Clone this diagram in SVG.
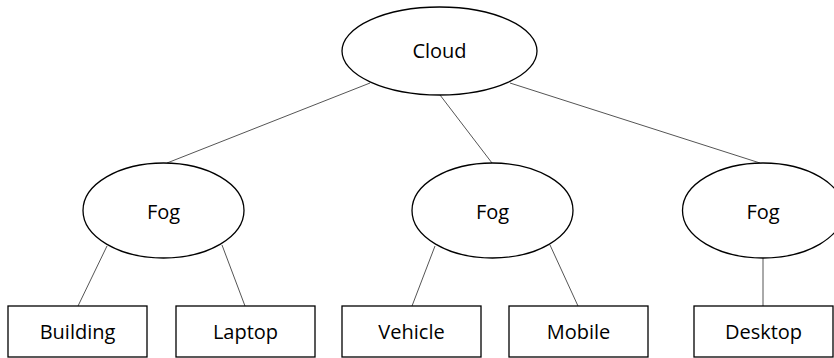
<svg xmlns="http://www.w3.org/2000/svg" width="834" height="358" viewBox="0 0 834 358">
  <style>
    .shape { fill: #ffffff; stroke: #000000; stroke-width: 1.3; }
    .edge { stroke: #555555; stroke-width: 1; fill: none; }
    .label { font-family: "Open Sans", "Liberation Sans", sans-serif; font-size: 20px; fill: #000000; text-anchor: middle; }
  </style>
  <rect width="834" height="358" fill="#ffffff"/>

  <!-- connectors -->
  <g id="connectors">
    <line class="edge" x1="370" y1="83" x2="167" y2="163"/>
    <line class="edge" x1="440" y1="95" x2="492" y2="163"/>
    <line class="edge" x1="510" y1="83" x2="760" y2="163"/>
    <line class="edge" x1="107" y1="246" x2="78" y2="306"/>
    <line class="edge" x1="222" y1="245" x2="245" y2="306"/>
    <line class="edge" x1="435" y1="246" x2="412" y2="306"/>
    <line class="edge" x1="550" y1="245" x2="578" y2="306"/>
    <line class="edge" x1="763" y1="257" x2="763" y2="306"/>
  </g>

  <!-- top tier -->
  <g id="cloud">
    <ellipse class="shape" cx="439.5" cy="51" rx="97.5" ry="44"/>
    <text class="label" x="439.5" y="58">Cloud</text>
  </g>

  <!-- middle tier -->
  <g id="fog-1">
    <ellipse class="shape" cx="163.5" cy="210.5" rx="80.5" ry="47.5"/>
    <text class="label" x="163.5" y="219">Fog</text>
  </g>
  <g id="fog-2">
    <ellipse class="shape" cx="492.5" cy="210.5" rx="80.5" ry="47.5"/>
    <text class="label" x="492.5" y="219">Fog</text>
  </g>
  <g id="fog-3">
    <ellipse class="shape" cx="763" cy="210.5" rx="80.5" ry="47.5"/>
    <text class="label" x="763" y="219">Fog</text>
  </g>

  <!-- bottom tier -->
  <g id="building">
    <rect class="shape" x="8" y="306" width="139" height="51"/>
    <text class="label" x="77.5" y="339">Building</text>
  </g>
  <g id="laptop">
    <rect class="shape" x="176" y="306" width="139" height="51"/>
    <text class="label" x="245.5" y="339">Laptop</text>
  </g>
  <g id="vehicle">
    <rect class="shape" x="342" y="306" width="139" height="51"/>
    <text class="label" x="411.5" y="339">Vehicle</text>
  </g>
  <g id="mobile">
    <rect class="shape" x="509" y="306" width="139" height="51"/>
    <text class="label" x="578.5" y="339">Mobile</text>
  </g>
  <g id="desktop">
    <rect class="shape" x="694" y="306" width="139" height="51"/>
    <text class="label" x="763.5" y="339">Desktop</text>
  </g>
</svg>
